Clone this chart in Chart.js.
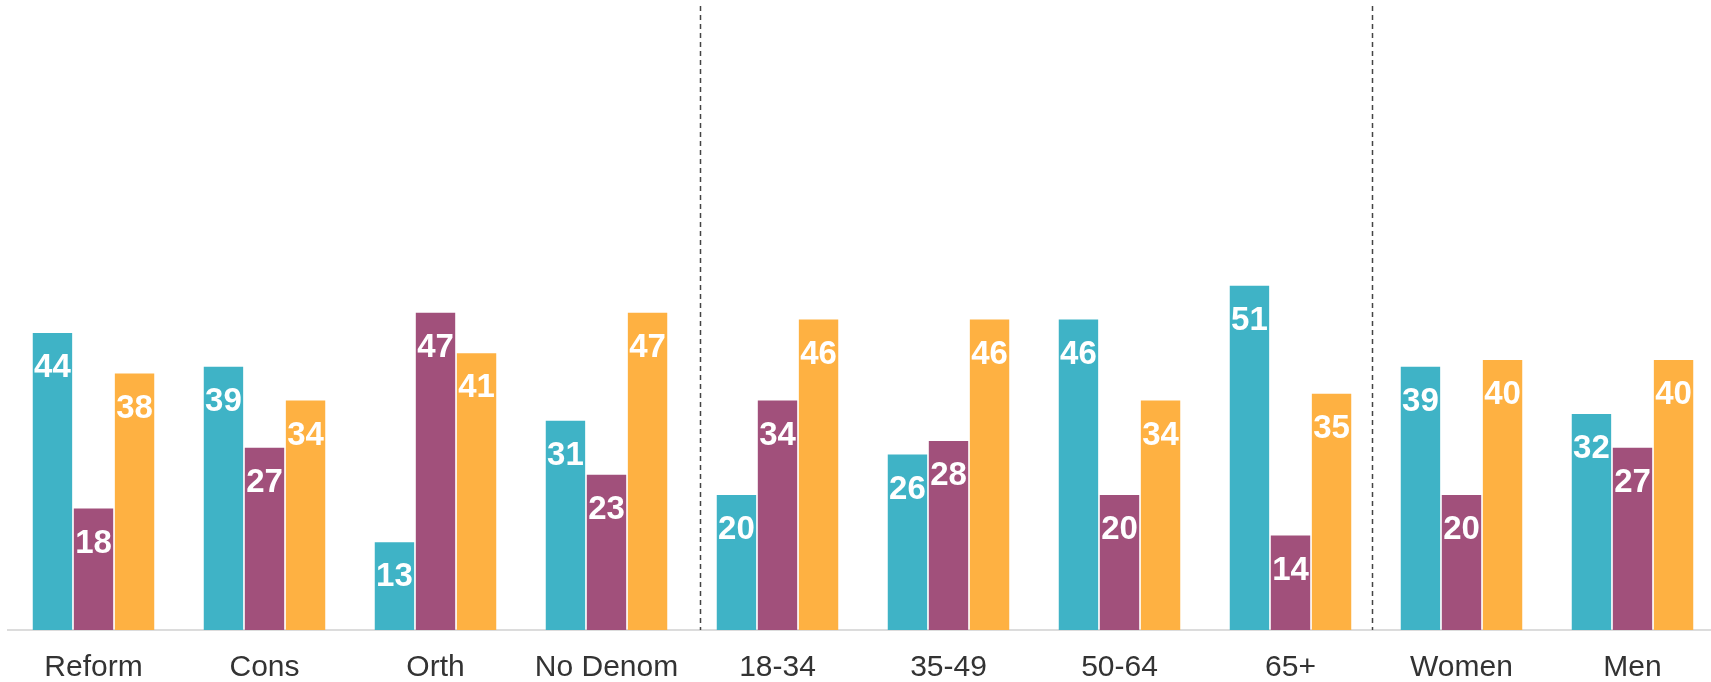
<!DOCTYPE html>
<html>
<head>
<meta charset="utf-8">
<script src="https://cdn.jsdelivr.net/npm/chart.js@4/dist/chart.umd.min.js"></script>
<style>
  html, body { margin: 0; padding: 0; background: #fff; overflow: hidden; }
  #page { width: 1711px; height: 682px; overflow: hidden; }
  #wrap { width: 1718px; height: 707px; position: relative; }
</style>
</head>
<body>
<div id="page"><div id="wrap"><canvas id="chart"></canvas></div></div>
<script>
let categories = ["Reform", "Cons", "Orth", "No Denom", "18-34", "35-49", "50-64", "65+", "Women", "Men"];
let tealValues = [44, 39, 13, 31, 20, 26, 46, 51, 39, 32];
let purpleValues = [18, 27, 47, 23, 34, 28, 20, 14, 20, 27];
let orangeValues = [38, 34, 41, 47, 46, 46, 34, 35, 40, 40];
// dividers sit between the denomination, age and gender groups
let dividerPositions = [3.546, 7.478];

const TEAL = "#3fb3c6";
const PURPLE = "#a1507b";
const ORANGE = "#feb142";

// white numbers drawn just inside the top of each bar
const barLabels = {
  id: "barLabels",
  afterDatasetsDraw(chart) {
    const ctx = chart.ctx;
    ctx.save();
    ctx.fillStyle = "#fff";
    ctx.font = "bold 33px 'Liberation Sans', Arial, sans-serif";
    ctx.textAlign = "center";
    ctx.textBaseline = "alphabetic";
    chart.data.datasets.forEach((ds, i) => {
      chart.getDatasetMeta(i).data.forEach((bar, j) => {
        ctx.fillText(ds.data[j], bar.x, bar.y + 44);
      });
    });
    ctx.restore();
  },
};

const dividers = {
  id: "dividers",
  afterDatasetsDraw(chart) {
    const ctx = chart.ctx;
    const x = chart.scales.x;
    ctx.save();
    ctx.strokeStyle = "#444";
    ctx.lineWidth = 1.5;
    ctx.setLineDash([5, 4]);
    dividerPositions.forEach((pos) => {
      let px = Math.round(x.getPixelForValue(pos)) + 0.5;
      ctx.beginPath();
      ctx.moveTo(px, 6);
      ctx.lineTo(px, chart.chartArea.bottom);
      ctx.stroke();
    });
    ctx.restore();
  },
};

new Chart(document.getElementById("chart"), {
  type: "bar",
  data: {
    labels: categories,
    datasets: [
      { data: tealValues, backgroundColor: TEAL },
      { data: purpleValues, backgroundColor: PURPLE },
      { data: orangeValues, backgroundColor: ORANGE },
    ],
  },
  options: {
    responsive: true,
    maintainAspectRatio: false,
    animation: false,
    categoryPercentage: 0.72,
    barPercentage: 0.96,
    layout: { padding: { left: 8, right: 0, top: 9, bottom: 1 } },
    plugins: {
      legend: { display: false },
      tooltip: { enabled: false },
    },
    scales: {
      x: {
        grid: { display: false, drawTicks: false },
        border: { display: true, color: "#dcdcdc", width: 2 },
        ticks: {
          color: "#333",
          padding: 23,
          font: { family: "'Liberation Sans', Arial, sans-serif", size: 30, lineHeight: 1 },
        },
      },
      y: {
        display: false,
        min: 0,
        max: 92,
      },
    },
  },
  plugins: [barLabels, dividers],
});
</script>
</body>
</html>
